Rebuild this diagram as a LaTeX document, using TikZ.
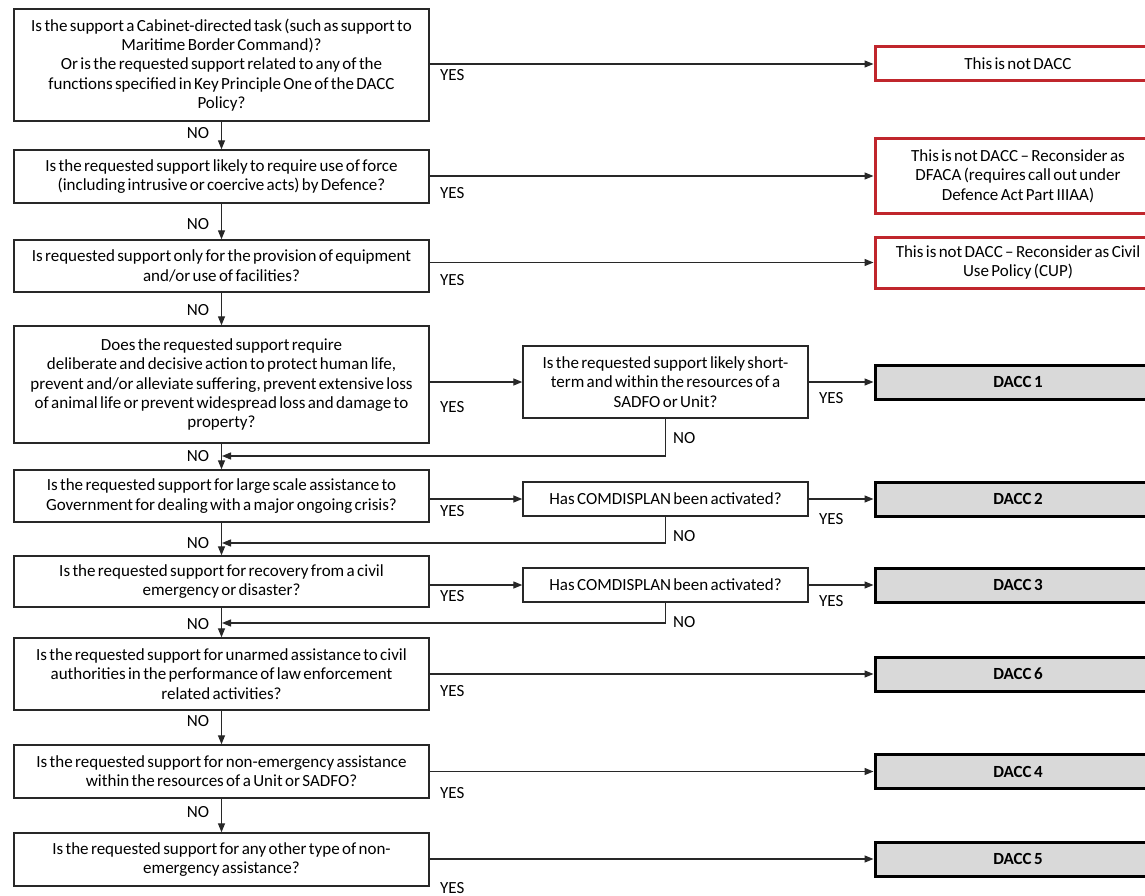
\documentclass[tikz,border=0pt]{standalone}
\usepackage{fontspec}
\setmainfont{Carlito}[WordSpace=0.62]
\usetikzlibrary{arrows.meta}
\definecolor{noRed}{RGB}{192,38,44}
\definecolor{daccGrey}{RGB}{217,217,217}
\definecolor{lineGrey}{RGB}{40,40,40}
\newcommand{\chartfont}{\fontsize{17}{19.3}\selectfont}
\newcommand{\tightspaces}{\spaceskip=0.14em\xspaceskip=0.2em\relax}
\tikzset{
  every node/.style={font=\chartfont, inner sep=0pt},
  para/.style={align=center, execute at begin node=\tightspaces},
  qbox/.style={para, draw=lineGrey, line width=1.4pt, fill=white, minimum width=415pt, text width=410pt},
  mbox/.style={para, draw=lineGrey, line width=1.4pt, fill=white, minimum width=285pt, text width=280pt},
  notbox/.style={para, draw=noRed, line width=3pt, fill=white, minimum width=286pt, text width=284pt},
  daccbox/.style={draw=black, line width=3pt, fill=daccGrey, minimum width=286pt, minimum height=34pt, font=\chartfont\bfseries},
  arr/.style={draw=lineGrey, line width=1.3pt, -{Triangle[length=9pt,width=7pt]}},
  lbl/.style={text=black, anchor=west},
  nolbl/.style={text=black},
}
\begin{document}
\begin{tikzpicture}[x=1pt, y=-1pt]
\clip (0,0) rectangle (1145,896);
\useasboundingbox (0,0) rectangle (1145,896);
\fill[white] (0,0) rectangle (1145,896);

% main question column
\node[qbox, minimum height=112pt] (q1) at (221.5,65) {Is the support a Cabinet-directed task (such as support to\\Maritime Border Command)?\\Or is the requested support related to any of the\\functions specified in Key Principle One of the DACC\\Policy?};
\node[qbox, minimum height=53pt] (q2) at (221.5,176.5) {Is the requested support likely to require use of force\\(including intrusive or coercive acts) by Defence?};
\node[qbox, minimum height=52pt] (q3) at (221.5,266) {Is requested support only for the provision of equipment\\and/or use of facilities?};
\node[qbox, minimum height=117pt] (q4) at (221.5,384.5) {Does the requested support require\\deliberate and decisive action to protect human life,\\prevent and/or alleviate suffering, prevent extensive loss\\of animal life or prevent widespread loss and damage to\\property?};
\node[qbox, minimum height=52pt] (q5) at (221.5,496) {Is the requested support for large scale assistance to\\Government for dealing with a major ongoing crisis?};
\node[qbox, minimum height=51pt] (q6) at (221.5,581.5) {Is the requested support for recovery from a civil\\emergency or disaster?};
\node[qbox, minimum height=72pt] (q7) at (221.5,674) {Is the requested support for unarmed assistance to civil\\authorities in the performance of law enforcement\\related activities?};
\node[qbox, minimum height=53pt] (q8) at (221.5,771.5) {Is the requested support for non-emergency assistance\\within the resources of a Unit or SADFO?};
\node[qbox, minimum height=53pt] (q9) at (221.5,859.5) {Is the requested support for any other type of non-\\emergency assistance?};

% secondary questions
\node[mbox, minimum height=72pt] (m4) at (665.5,382) {Is the requested support likely short-\\term and within the resources of a\\SADFO or Unit?};
\node[mbox, minimum height=34pt] (m5) at (665.5,499) {Has COMDISPLAN been activated?};
\node[mbox, minimum height=34pt] (m6) at (665.5,585) {Has COMDISPLAN been activated?};

% outcomes
\node[notbox, minimum height=34pt] (r1) at (1018,64) {This is not DACC};
\node[notbox, minimum height=74pt] (r2) at (1018,176) {This is not DACC – Reconsider as\\DFACA (requires call out under\\Defence Act Part IIIAA)};
\node[notbox, minimum height=51pt] (r3) at (1018,262.5) {This is not DACC – Reconsider as Civil\\Use Policy (CUP)};
\node[daccbox] (d1) at (1018,382) {DACC 1};
\node[daccbox] (d2) at (1018,499) {DACC 2};
\node[daccbox] (d3) at (1018,585) {DACC 3};
\node[daccbox] (d6) at (1018,674) {DACC 6};
\node[daccbox] (d4) at (1018,771.5) {DACC 4};
\node[daccbox] (d5) at (1018,859) {DACC 5};

% NO branches down the main column
\draw[arr] (q1.south) -- (q2.north);
\draw[arr] (q2.south) -- (q3.north);
\draw[arr] (q3.south) -- (q4.north);
\draw[arr] (q4.south) -- (q5.north);
\draw[arr] (q5.south) -- (q6.north);
\draw[arr] (q6.south) -- (q7.north);
\draw[arr] (q7.south) -- (q8.north);
\draw[arr] (q8.south) -- (q9.north);

\node[nolbl] (n1) at (198,133) {NO};
\node[nolbl] (n2) at (198,224) {NO};
\node[nolbl] (n3) at (198,310) {NO};
\node[nolbl] (n4) at (198,456) {NO};
\node[nolbl] (n5) at (198,543) {NO};
\node[nolbl] (n6) at (198,624) {NO};
\node[nolbl] (n7) at (198,721) {NO};
\node[nolbl] (n8) at (198,812) {NO};

% NO returns from the secondary questions
\coordinate (j4) at (222,456);
\coordinate (j5) at (222,543);
\coordinate (j6) at (222,623);
\draw[arr] (m4.south) |- (j4);
\draw[arr] (m5.south) |- (j5);
\draw[arr] (m6.south) |- (j6);
\node[nolbl, anchor=west] (n4b) at (673,438) {NO};
\node[nolbl, anchor=west] (n5b) at (673,536) {NO};
\node[nolbl, anchor=west] (n6b) at (673,622) {NO};

% YES branches
\draw[arr] (q1.east |- r1) -- (r1.west);
\draw[arr] (q2.east |- r2) -- (r2.west);
\draw[arr] (q3.east |- r3) -- (r3.west);
\draw[arr] (q4.east |- m4) -- (m4.west);
\draw[arr] (q5.east |- m5) -- (m5.west);
\draw[arr] (q6.east |- m6) -- (m6.west);
\draw[arr] (m4.east) -- (d1.west);
\draw[arr] (m5.east) -- (d2.west);
\draw[arr] (m6.east) -- (d3.west);
\draw[arr] (q7.east |- d6) -- (d6.west);
\draw[arr] (q8.east |- d4) -- (d4.west);
\draw[arr] (q9.east |- d5) -- (d5.west);

\node[lbl] (y1) at (440,75) {YES};
\node[lbl] (y2) at (440,193) {YES};
\node[lbl] (y3) at (440,280) {YES};
\node[lbl] (y4) at (440,407) {YES};
\node[lbl] (y5) at (440,511) {YES};
\node[lbl] (y6) at (440,596) {YES};
\node[lbl] (y7) at (440,691) {YES};
\node[lbl] (y8) at (440,793) {YES};
\node[lbl] (y9) at (440,888) {YES};
\node[lbl] (y4b) at (819,398) {YES};
\node[lbl] (y5b) at (819,519) {YES};
\node[lbl] (y6b) at (819,601) {YES};
\end{tikzpicture}
\end{document}
